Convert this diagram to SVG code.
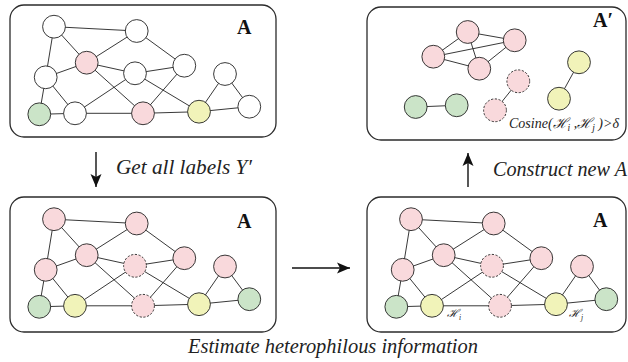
<svg xmlns="http://www.w3.org/2000/svg" width="628" height="362" viewBox="0 0 628 362">
<defs>
<style>
.panel{fill:#fff;stroke:#2b2b2b;stroke-width:1.3}
.e{stroke:#222;stroke-width:0.9;fill:none}
.n{stroke:#222;stroke-width:0.9}
.w{fill:#fff}
.p{fill:#f9d9dc}
.g{fill:#cbe4c8}
.y{fill:#f1f3b9}
.d{stroke-dasharray:2.2 1.6}
.lbl{font-family:"Liberation Serif","Times New Roman","DejaVu Serif",serif;font-weight:bold;font-size:20px;fill:#111}
.cap{font-family:"Liberation Serif","Times New Roman","DejaVu Serif",serif;font-style:italic;font-size:20px;fill:#222}
.math{font-family:"Liberation Serif","Times New Roman","DejaVu Serif",serif;font-style:italic;fill:#222}
.arr{stroke:#111;stroke-width:1.4;fill:none}
</style>
<marker id="ah" markerUnits="userSpaceOnUse" markerWidth="14" markerHeight="12" refX="13" refY="6" orient="auto">
<path d="M0,0.5 L13,6 L0,11.5 L3,6 Z" fill="#111"/>
</marker>
</defs>

<!-- panels -->
<g id="panel-top-left"><rect class="panel" x="10" y="5" width="266" height="132" rx="14"/><text class="lbl" x="237" y="34">A</text></g>
<g id="panel-top-right"><rect class="panel" x="367" y="7" width="259" height="133" rx="14"/><text class="lbl" x="593" y="27">A′</text></g>
<g id="panel-bottom-left"><rect class="panel" x="10" y="197" width="266" height="135" rx="14"/><text class="lbl" x="237" y="228">A</text></g>
<g id="panel-bottom-right"><rect class="panel" x="367" y="197" width="259" height="135" rx="14"/><text class="lbl" x="593" y="227">A</text></g>

<!-- connectors -->
<g id="connectors">
<g id="edges-top-left">
<path class="e" d="M54,26.7L136.7,31 M54,26.7L45.7,77.3 M54,26.7L86.7,62.7 M136.7,31L86.7,62.7 M136.7,31L184.3,65.7 M86.7,62.7L45.7,77.3 M86.7,62.7L135,73.3 M86.7,62.7L143,113.3 M135,73.3L184.3,65.7 M135,73.3L75,113.3 M135,73.3L199,111.7 M184.3,65.7L143,113.3 M45.7,77.3L39.3,114.3 M45.7,77.3L75,113.3 M39.3,114.3L75,113.3 M75,113.3L143,113.3 M143,113.3L199,111.7 M199,111.7L225,74 M199,111.7L249.3,106.7 M225,74L249.3,106.7"/>
</g>
<g id="edges-bottom-left" transform="translate(0,192.5)">
<path class="e" d="M54,26.7L136.7,31 M54,26.7L45.7,77.3 M54,26.7L86.7,62.7 M136.7,31L86.7,62.7 M136.7,31L184.3,65.7 M86.7,62.7L45.7,77.3 M86.7,62.7L135,73.3 M86.7,62.7L143,113.3 M135,73.3L184.3,65.7 M135,73.3L75,113.3 M135,73.3L199,111.7 M184.3,65.7L143,113.3 M45.7,77.3L39.3,114.3 M45.7,77.3L75,113.3 M39.3,114.3L75,113.3 M75,113.3L143,113.3 M143,113.3L199,111.7 M199,111.7L225,74 M199,111.7L249.3,106.7 M225,74L249.3,106.7"/>
</g>
<g id="edges-bottom-right" transform="translate(357,192.5)">
<path class="e" d="M54,26.7L136.7,31 M54,26.7L45.7,77.3 M54,26.7L86.7,62.7 M136.7,31L86.7,62.7 M136.7,31L184.3,65.7 M86.7,62.7L45.7,77.3 M86.7,62.7L135,73.3 M86.7,62.7L143,113.3 M135,73.3L184.3,65.7 M135,73.3L75,113.3 M135,73.3L199,111.7 M184.3,65.7L143,113.3 M45.7,77.3L39.3,114.3 M45.7,77.3L75,113.3 M39.3,114.3L75,113.3 M75,113.3L143,113.3 M143,113.3L199,111.7 M199,111.7L225,74 M199,111.7L249.3,106.7 M225,74L249.3,106.7"/>
</g>
<g id="edges-top-right">
<path class="e" d="M467.7,32L514.7,40.3 M467.7,32L433.3,56.7 M467.7,32L479.3,68.7 M433.3,56.7L514.7,40.3 M433.3,56.7L479.3,68.7 M479.3,68.7L514.7,40.3 M518.3,81.3L495,110.3 M415.7,107L456.7,105.3 M579,62.3L559,98.7"/>
</g>
<line id="arrow-labels" class="arr" x1="96" y1="152" x2="96" y2="187" marker-end="url(#ah)"/>
<line id="arrow-construct" class="arr" x1="468" y1="187" x2="468" y2="153" marker-end="url(#ah)"/>
<line id="arrow-estimate" class="arr" x1="292" y1="268" x2="350" y2="268" marker-end="url(#ah)"/>
</g>

<!-- nodes top-left -->
<g id="tl-n1"><circle class="n w" cx="54" cy="26.7" r="11.4"/></g>
<g id="tl-n2"><circle class="n w" cx="136.7" cy="31" r="11.4"/></g>
<g id="tl-n3"><circle class="n p" cx="86.7" cy="62.7" r="11.4"/></g>
<g id="tl-n4"><circle class="n w" cx="45.7" cy="77.3" r="11.4"/></g>
<g id="tl-n5"><circle class="n w" cx="135" cy="73.3" r="11.4"/></g>
<g id="tl-n6"><circle class="n w" cx="184.3" cy="65.7" r="11.4"/></g>
<g id="tl-n7"><circle class="n w" cx="225" cy="74" r="11.4"/></g>
<g id="tl-n8"><circle class="n g" cx="39.3" cy="114.3" r="11.4"/></g>
<g id="tl-n9"><circle class="n w" cx="75" cy="113.3" r="11.4"/></g>
<g id="tl-n10"><circle class="n p" cx="143" cy="113.3" r="11.4"/></g>
<g id="tl-n11"><circle class="n y" cx="199" cy="111.7" r="11.4"/></g>
<g id="tl-n12"><circle class="n w" cx="249.3" cy="106.7" r="11.4"/></g>

<!-- nodes bottom-left -->
<g transform="translate(0,192.5)">
<g id="bl-n1"><circle class="n p" cx="54" cy="26.7" r="11.4"/></g>
<g id="bl-n2"><circle class="n p" cx="136.7" cy="31" r="11.4"/></g>
<g id="bl-n3"><circle class="n p" cx="86.7" cy="62.7" r="11.4"/></g>
<g id="bl-n4"><circle class="n p" cx="45.7" cy="77.3" r="11.4"/></g>
<g id="bl-n5"><circle class="n p d" cx="135" cy="73.3" r="11.4"/></g>
<g id="bl-n6"><circle class="n p" cx="184.3" cy="65.7" r="11.4"/></g>
<g id="bl-n7"><circle class="n p" cx="225" cy="74" r="11.4"/></g>
<g id="bl-n8"><circle class="n g" cx="39.3" cy="114.3" r="11.4"/></g>
<g id="bl-n9"><circle class="n y" cx="75" cy="113.3" r="11.4"/></g>
<g id="bl-n10"><circle class="n p d" cx="143" cy="113.3" r="11.4"/></g>
<g id="bl-n11"><circle class="n y" cx="199" cy="111.7" r="11.4"/></g>
<g id="bl-n12"><circle class="n g" cx="249.3" cy="106.7" r="11.4"/></g>
</g>

<!-- nodes bottom-right -->
<g transform="translate(357,192.5)">
<g id="br-n1"><circle class="n p" cx="54" cy="26.7" r="11.4"/></g>
<g id="br-n2"><circle class="n p" cx="136.7" cy="31" r="11.4"/></g>
<g id="br-n3"><circle class="n p" cx="86.7" cy="62.7" r="11.4"/></g>
<g id="br-n4"><circle class="n p" cx="45.7" cy="77.3" r="11.4"/></g>
<g id="br-n5"><circle class="n p d" cx="135" cy="73.3" r="11.4"/></g>
<g id="br-n6"><circle class="n p" cx="184.3" cy="65.7" r="11.4"/></g>
<g id="br-n7"><circle class="n p" cx="225" cy="74" r="11.4"/></g>
<g id="br-n8"><circle class="n g" cx="39.3" cy="114.3" r="11.4"/></g>
<g id="br-n9"><circle class="n y" cx="75" cy="113.3" r="11.4"/></g>
<g id="br-n10"><circle class="n p d" cx="143" cy="113.3" r="11.4"/></g>
<g id="br-n11"><circle class="n y" cx="199" cy="111.7" r="11.4"/></g>
<g id="br-n12"><circle class="n g" cx="249.3" cy="106.7" r="11.4"/></g>
</g>
<g id="label-Hi"><text class="math" x="447" y="317" font-size="11">ℋ<tspan font-size="7.5" dy="2.5">i</tspan></text></g>
<g id="label-Hj"><text class="math" x="569" y="317" font-size="11">ℋ<tspan font-size="7.5" dy="2.5">j</tspan></text></g>

<!-- nodes top-right -->
<g id="tr-p1"><circle class="n p" cx="467.7" cy="32" r="11.4"/></g>
<g id="tr-p2"><circle class="n p" cx="514.7" cy="40.3" r="11.4"/></g>
<g id="tr-p3"><circle class="n p" cx="433.3" cy="56.7" r="11.4"/></g>
<g id="tr-p4"><circle class="n p" cx="479.3" cy="68.7" r="11.4"/></g>
<g id="tr-p5"><circle class="n p d" cx="518.3" cy="81.3" r="11.4"/></g>
<g id="tr-p6"><circle class="n p d" cx="495" cy="110.3" r="11.4"/></g>
<g id="tr-g1"><circle class="n g" cx="415.7" cy="107" r="11.4"/></g>
<g id="tr-g2"><circle class="n g" cx="456.7" cy="105.3" r="11.4"/></g>
<g id="tr-y1"><circle class="n y" cx="579" cy="62.3" r="11.4"/></g>
<g id="tr-y2"><circle class="n y" cx="559" cy="98.7" r="11.4"/></g>
<g id="label-cosine"><text class="math" x="509" y="128" font-size="14">Cosine(ℋ<tspan font-size="9.5" dy="3">i</tspan><tspan dy="-3"> ,ℋ</tspan><tspan font-size="9.5" dy="3">j</tspan><tspan dy="-3"> )&gt;δ</tspan></text></g>

<!-- captions -->
<text class="cap" x="116" y="174" textLength="136" lengthAdjust="spacingAndGlyphs">Get all labels Y′</text>
<text class="cap" x="493" y="176" textLength="134" lengthAdjust="spacingAndGlyphs">Construct new A</text>
<text class="cap" x="188" y="353" textLength="290" lengthAdjust="spacingAndGlyphs">Estimate heterophilous information</text>
</svg>
